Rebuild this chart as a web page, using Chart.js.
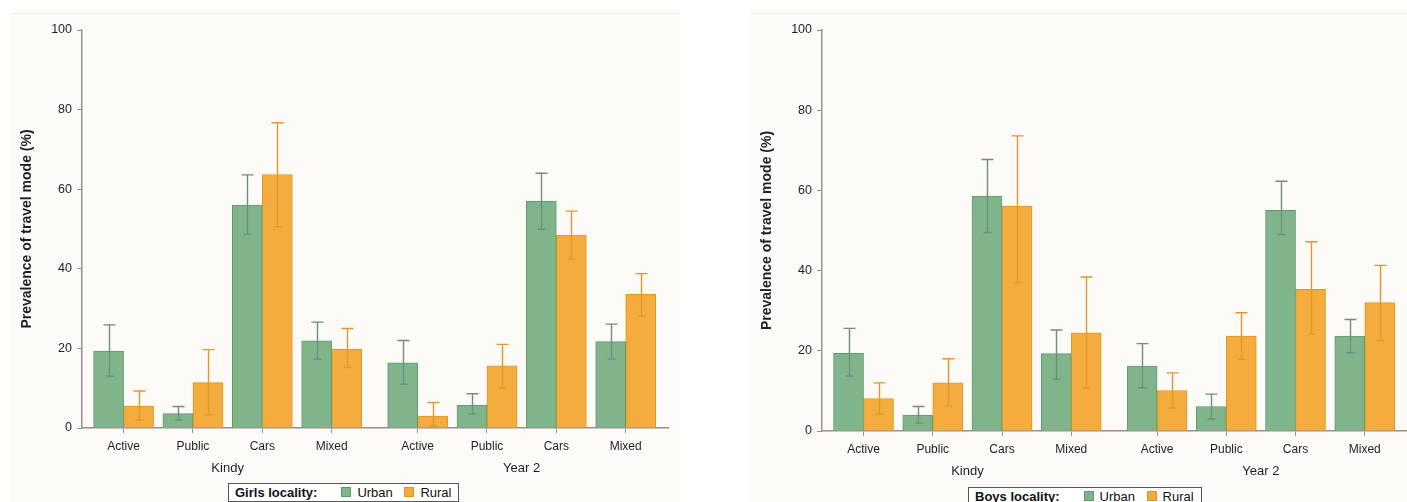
<!DOCTYPE html>
<html>
<head>
<meta charset="utf-8">
<title>Prevalence of travel mode</title>
<script src="https://cdn.jsdelivr.net/npm/chart.js@4.4.1/dist/chart.umd.min.js"></script>
<style>
  html, body {
    margin: 0;
    padding: 0;
    width: 1407px;
    height: 502px;
    overflow: hidden;
    background: #fff;
    font-family: "Liberation Sans", Arial, sans-serif;
  }
  .panel {
    position: absolute;
    top: 13px;
    height: 489px;
    background: #fcfbf8;
    border-top: 1px solid #f1eee6;
  }
  #girlsPanel { left: 10px; width: 670px; }
  #boysPanel { left: 750px; width: 657px; }
  .panel canvas { position: absolute; left: 0; top: 0; }
  .legend {
    position: absolute;
    height: 17px;
    border: 1px solid #555;
    background: #fff;
    font-size: 13px;
    line-height: 17px;
    color: #111;
    white-space: nowrap;
    padding: 0 7px 0 6px;
  }
  .legend b { margin-right: 16px; }
  .legend .sw {
    display: inline-block;
    width: 8px;
    height: 8px;
    margin: 0 6px 0 8px;
    vertical-align: 0;
  }
</style>
</head>
<body>
<div class="panel" id="girlsPanel"><canvas id="girlsChart" width="670" height="470"></canvas></div>
<div class="panel" id="boysPanel"><canvas id="boysChart" width="657" height="473"></canvas></div>
<div class="legend" id="girlsLegend" style="left:228px; top:483px;"></div>
<div class="legend" id="boysLegend" style="left:968px; top:487px;"></div>

<script>
// ---- data ----
const MODES = ["Active", "Public", "Cars", "Mixed"];
const PERIODS = ["Kindy", "Year 2"];
const SERIES = ["Urban", "Rural"];
const Y_TICKS = [0, 20, 40, 60, 80, 100];

// girls
const GIRLS_URBAN = [19.3, 3.6, 56.0, 21.9, 16.4, 5.7, 57.0, 21.7];
const GIRLS_URBAN_LO = [13.0, 2.0, 48.7, 17.3, 11.0, 3.5, 49.9, 17.3];
const GIRLS_URBAN_HI = [25.9, 5.4, 63.6, 26.6, 22.0, 8.6, 64.0, 26.1];
const GIRLS_RURAL = [5.5, 11.4, 63.7, 19.8, 3.0, 15.6, 48.5, 33.6];
const GIRLS_RURAL_LO = [2.0, 3.3, 50.6, 15.2, 0.5, 10.1, 42.4, 28.1];
const GIRLS_RURAL_HI = [9.3, 19.7, 76.7, 25.0, 6.4, 21.0, 54.5, 38.8];

// boys
const BOYS_URBAN = [19.4, 4.0, 58.6, 19.3, 16.2, 6.1, 55.0, 23.7];
const BOYS_URBAN_LO = [13.7, 2.0, 49.5, 12.9, 10.8, 3.0, 49.0, 19.5];
const BOYS_URBAN_HI = [25.6, 6.1, 67.7, 25.2, 21.8, 9.2, 62.3, 27.8];
const BOYS_RURAL = [8.1, 12.0, 56.1, 24.5, 10.1, 23.7, 35.3, 32.0];
const BOYS_RURAL_LO = [4.2, 6.2, 37.0, 10.8, 5.7, 17.9, 24.1, 22.6];
const BOYS_RURAL_HI = [12.0, 18.0, 73.6, 38.4, 14.5, 29.5, 47.2, 41.3];

// ---- styling ----
const COLORS = {
  urban: "#80b58b",
  urbanBorder: "#5f9a6d",
  urbanErr: "#6f8f78",
  rural: "#f3ac3d",
  ruralBorder: "#e1961f",
  ruralErr: "#e5962a",
  axis: "#9a8f8a",
  text: "#1e1e1e",
};
const FONT = "'Liberation Sans', Arial, sans-serif";
const GROUP_GAP = 0.24; // extra space between Kindy and Year 2 blocks

// slot position on the linear x axis for every bar pair
const xPositions = PERIODS.flatMap((p, g) =>
  MODES.map((m, i) => g * (MODES.length + GROUP_GAP) + i + 1)
);

// error bars drawn from the dataset's errLow / errHigh arrays
const errorBarPlugin = {
  id: "errorBars",
  afterDatasetsDraw(chart) {
    const { ctx } = chart;
    const yScale = chart.scales.y;
    chart.data.datasets.forEach((ds, i) => {
      const meta = chart.getDatasetMeta(i);
      ctx.save();
      ctx.strokeStyle = ds.errColor;
      ctx.lineWidth = 1.4;
      meta.data.forEach((bar, j) => {
        const x = Math.round(bar.x) + 0.5;
        const yHi = yScale.getPixelForValue(ds.errHigh[j]);
        const yLo = yScale.getPixelForValue(ds.errLow[j]);
        ctx.beginPath();
        ctx.moveTo(x, yHi);
        ctx.lineTo(x, yLo);
        ctx.moveTo(x - 6, yHi);
        ctx.lineTo(x + 6, yHi);
        ctx.moveTo(x - 4, yLo);
        ctx.lineTo(x + 4, yLo);
        ctx.stroke();
      });
      ctx.restore();
    });
  },
};

// "Kindy" / "Year 2" under the mode labels
const groupLabelPlugin = {
  id: "groupLabels",
  afterDraw(chart) {
    const { ctx } = chart;
    const xScale = chart.scales.x;
    ctx.save();
    ctx.font = `13px ${FONT}`;
    ctx.fillStyle = COLORS.text;
    ctx.textAlign = "center";
    ctx.textBaseline = "middle";
    PERIODS.forEach((p, g) => {
      const pos = xPositions.slice(g * MODES.length, (g + 1) * MODES.length);
      const mid = (pos[0] + pos[pos.length - 1]) / 2;
      ctx.fillText(p, xScale.getPixelForValue(mid), xScale.top + 40);
    });
    ctx.restore();
  },
};

const makeDataset = (label, values, lo, hi, fill, border, err) => ({
  label,
  data: values.map((v, i) => ({ x: xPositions[i], y: v })),
  errLow: lo,
  errHigh: hi,
  errColor: err,
  backgroundColor: fill,
  borderColor: border,
  borderWidth: 1,
  barThickness: 30,
});

const makeChart = (canvasId, urban, rural, rightPad) => {
  const canvas = document.getElementById(canvasId);
  const axisHeight = 56;
  new Chart(canvas, {
    type: "bar",
    data: {
      datasets: [
        makeDataset(SERIES[0], urban[0], urban[1], urban[2], COLORS.urban, COLORS.urbanBorder, COLORS.urbanErr),
        makeDataset(SERIES[1], rural[0], rural[1], rural[2], COLORS.rural, COLORS.ruralBorder, COLORS.ruralErr),
      ],
    },
    plugins: [errorBarPlugin, groupLabelPlugin],
    options: {
      responsive: false,
      animation: false,
      devicePixelRatio: 1,
      layout: { padding: { top: 16, right: rightPad, bottom: 0, left: 0 } },
      plugins: {
        legend: { display: false },
        tooltip: { enabled: false },
      },
      scales: {
        x: {
          type: "linear",
          min: 0.4,
          max: 8.85,
          offset: false,
          afterBuildTicks: (s) => {
            s.ticks = xPositions.map((v) => ({ value: v }));
          },
          afterFit: (s) => {
            s.height = axisHeight;
          },
          ticks: {
            autoSkip: false,
            maxRotation: 0,
            padding: 6,
            color: COLORS.text,
            font: { family: FONT, size: 12 },
            callback: (v, i) => MODES[i % MODES.length],
          },
          grid: {
            offset: false,
            drawOnChartArea: false,
            drawTicks: true,
            tickLength: 5,
            color: COLORS.axis,
          },
          border: { display: true, color: COLORS.axis, width: 1.5 },
        },
        y: {
          min: 0,
          max: 100,
          afterBuildTicks: (s) => {
            s.ticks = Y_TICKS.map((v) => ({ value: v }));
          },
          afterFit: (s) => {
            s.width = 72;
          },
          ticks: {
            padding: 5,
            color: COLORS.text,
            font: { family: FONT, size: 12.5 },
          },
          grid: {
            drawOnChartArea: false,
            drawTicks: true,
            tickLength: 5,
            color: COLORS.axis,
          },
          border: { display: true, color: COLORS.axis, width: 1.5 },
          title: {
            display: true,
            text: "Prevalence of travel mode (%)",
            color: COLORS.text,
            font: { family: FONT, size: 14, weight: "bold" },
            padding: { top: 9, bottom: 0 },
          },
        },
      },
    },
  });
};

const makeLegend = (id, title) => {
  const el = document.getElementById(id);
  const fills = [COLORS.urban, COLORS.rural];
  const borders = [COLORS.urbanBorder, COLORS.ruralBorder];
  el.innerHTML =
    `<b>${title}</b>` +
    SERIES.map(
      (s, i) =>
        `<span class="sw" style="background:${fills[i]};border:1px solid ${borders[i]}"></span>${s}`
    ).join(" ");
};

const init = () => {
  makeChart("girlsChart",
    [GIRLS_URBAN, GIRLS_URBAN_LO, GIRLS_URBAN_HI],
    [GIRLS_RURAL, GIRLS_RURAL_LO, GIRLS_RURAL_HI], 12);
  makeChart("boysChart",
    [BOYS_URBAN, BOYS_URBAN_LO, BOYS_URBAN_HI],
    [BOYS_RURAL, BOYS_RURAL_LO, BOYS_RURAL_HI], 0);
  makeLegend("girlsLegend", "Girls locality:");
  makeLegend("boysLegend", "Boys locality:");
};

if (document.readyState === "loading") {
  document.addEventListener("DOMContentLoaded", init);
} else {
  init();
}
</script>
</body>
</html>
